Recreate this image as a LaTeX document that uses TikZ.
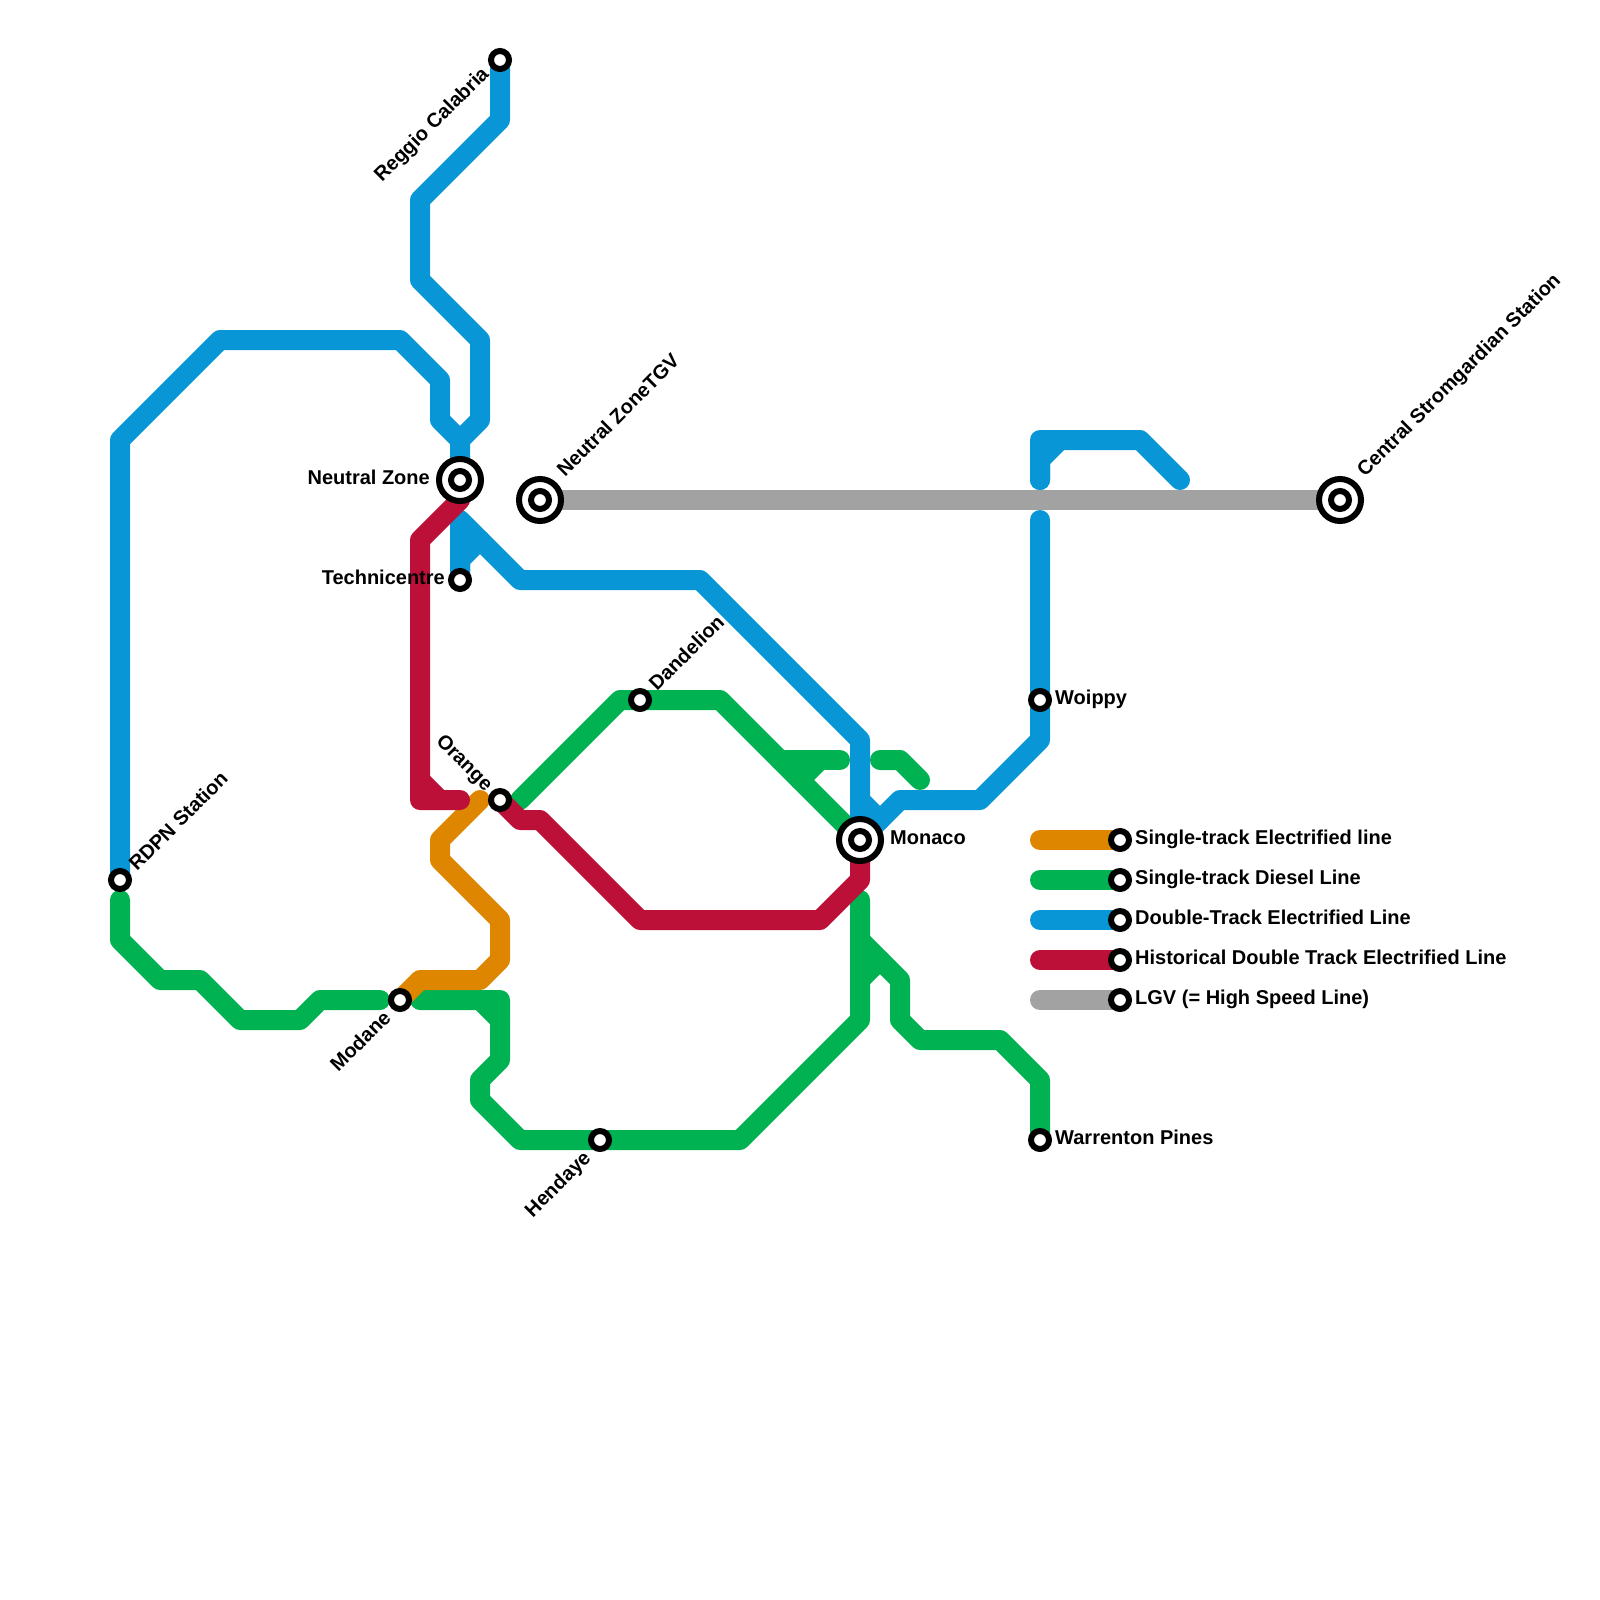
\documentclass[tikz,border=0pt]{standalone}
\usepackage{fontspec}
\setmainfont{Liberation Sans}
\usepackage{xcolor}
\usetikzlibrary{calc,positioning,backgrounds}
\definecolor{orangeline}{HTML}{DF8600}
\definecolor{greenline}{HTML}{00B251}
\definecolor{blueline}{HTML}{0896D7}
\definecolor{redline}{HTML}{BD1038}
\definecolor{greyline}{HTML}{A2A2A2}
\begin{document}
\begin{tikzpicture}[
    x=1pt,y=-1pt,
    every node/.style={font=\fontsize{20}{22}\selectfont\bfseries},
    track/.style={line width=20pt,line cap=round,line join=round},
    stn/.style={circle,draw=black,fill=white,line width=6pt,minimum size=18pt,inner sep=0pt},
    bigstn/.style={circle,draw=black,fill=white,line width=6pt,minimum size=42pt,inner sep=0pt},
    lbl/.style={inner sep=0pt}
  ]
    \useasboundingbox (0,0) rectangle (1600,1600);
    % interchange rings
    \node[bigstn] (nzring) at (460,480) {};
    \node[bigstn] (tgvring) at (540,500) {};
    \node[bigstn] (csring) at (1340,500) {};
    \node[bigstn] (monacoring) at (860,840) {};
    % stations
    \node[stn] (rdpn) at (120,880) {};
    \node[stn] (reggio) at (500,60) {};
    \node[stn] (nz) at (460,480) {};
    \node[stn] (tgv) at (540,500) {};
    \node[stn] (cs) at (1340,500) {};
    \node[stn] (techni) at (460,580) {};
    \node[stn] (dandelion) at (640,700) {};
    \node[stn] (orange) at (500,800) {};
    \node[stn] (monaco) at (860,840) {};
    \node[stn] (woippy) at (1040,700) {};
    \node[stn] (modane) at (400,1000) {};
    \node[stn] (hendaye) at (600,1140) {};
    \node[stn] (warrenton) at (1040,1140) {};
    % line ends that stop short of a station
    \coordinate (greenstart) at (520,800);
    \coordinate (orangeend) at (480,800);
    \coordinate (redend) at (460,800);
    \begin{pgfonlayer}{background}
      % grey
      \draw[track,greyline] (tgv.center) -- (cs.center);
      % green
      \draw[track,greenline] (greenstart) -- (620,700) -- (dandelion.center) -- (720,700) -- (monaco.center);
      \draw[track,greenline] (780,760) -- (840,760);
      \draw[track,greenline] (800,780) -- (820,760);
      \draw[track,greenline] (880,760) -- (900,760) -- (920,780);
      \draw[track,greenline] (860,900) -- (860,1020) -- (740,1140) -- (hendaye.center) -- (520,1140) -- (480,1100) -- (480,1080) -- (500,1060) -- (500,1000) -- (420,1000);
      \draw[track,greenline] (480,1000) -- (500,1020);
      \draw[track,greenline] (860,940) -- (900,980) -- (900,1020) -- (920,1040) -- (1000,1040) -- (1040,1080) -- (warrenton.center);
      \draw[track,greenline] (860,980) -- (880,960);
      \draw[track,greenline] (120,900) -- (120,940) -- (160,980) -- (200,980) -- (240,1020) -- (300,1020) -- (320,1000) -- (380,1000);
      % orange
      \draw[track,orangeline] (modane.center) -- (420,980) -- (480,980) -- (500,960) -- (500,920) -- (440,860) -- (440,840) -- (orangeend);
      % blue
      \draw[track,blueline] (rdpn.center) -- (120,440) -- (220,340) -- (400,340) -- (440,380) -- (440,420) -- (460,440) -- (nz.center);
      \draw[track,blueline] (reggio.center) -- (500,120) -- (420,200) -- (420,280) -- (480,340) -- (480,420) -- (460,440);
      \draw[track,blueline] (techni.center) -- (460,520) -- (520,580) -- (700,580) -- (860,740) -- (monaco.center);
      \draw[track,blueline] (techni.center) -- (460,560) -- (480,540);
      \draw[track,blueline] (monaco.center) -- (900,800) -- (980,800) -- (1040,740) -- (woippy.center) -- (1040,520);
      \draw[track,blueline] (860,800) -- (880,820);
      \draw[track,blueline] (1040,480) -- (1040,440) -- (1140,440) -- (1180,480);
      \draw[track,blueline] (1040,480) -- (1040,460) -- (1060,440);
      % red
      \draw[track,redline] (nz.center) -- (460,500) -- (420,540) -- (420,800) -- (redend);
      \draw[track,redline] (420,780) -- (440,800);
      \draw[track,redline] (orange.center) -- (520,820) -- (540,820) -- (640,920) -- (820,920) -- (860,880) -- (monaco.center);
    \end{pgfonlayer}
    % station names
    \node[lbl,anchor=base east] (nzlbl) at ([shift={(-30,4)}]nz) {Neutral Zone};
    \node[lbl,anchor=base east] (technilbl) at ([shift={(-15,4)}]techni) {Technicentre};
    \node[lbl,anchor=base west] (monacolbl) at ([shift={(30,4)}]monaco) {Monaco};
    \node[lbl,anchor=base west] (woippylbl) at ([shift={(15,4)}]woippy) {Woippy};
    \node[lbl,anchor=base west] (warrentonlbl) at ([shift={(15,4)}]warrenton) {Warrenton Pines};
    \node[lbl,anchor=base west,rotate=45] (rdpnlbl) at ([shift={(17,-8)}]rdpn) {RDPN Station};
    \node[lbl,anchor=base east,rotate=45] (reggiolbl) at ([shift={(-10,15)}]reggio) {Reggio Calabria};
    \node[lbl,anchor=base west,rotate=45] (tgvlbl) at ([shift={(25,-22)}]tgv) {Neutral ZoneTGV};
    \node[lbl,anchor=base west,rotate=45] (cslbl) at ([shift={(25,-22)}]cs) {Central Stromgardian Station};
    \node[lbl,anchor=base west,rotate=45] (dandelionlbl) at ([shift={(17,-8)}]dandelion) {Dandelion};
    \node[lbl,anchor=base east,rotate=-45] (orangelbl) at ([shift={(-15,-8)}]orange) {Orange};
    \node[lbl,anchor=base east,rotate=45] (modanelbl) at ([shift={(-8,19)}]modane) {Modane};
    \node[lbl,anchor=base east,rotate=45] (hendayelbl) at ([shift={(-8,19)}]hendaye) {Hendaye};
    % legend
    \foreach \i/\y/\col/\txt in {1/840/orangeline/Single-track Electrified line,
                                 2/880/greenline/Single-track Diesel Line,
                                 3/920/blueline/Double-Track Electrified Line,
                                 4/960/redline/Historical Double Track Electrified Line,
                                 5/1000/greyline/LGV (= High Speed Line)} {
      \node[stn] (key\i) at (1120,\y) {};
      \coordinate (keystart\i) at (1040,\y);
      \begin{pgfonlayer}{background}
        \draw[track,\col] (keystart\i) -- (key\i.center);
      \end{pgfonlayer}
      \node[lbl,anchor=base west] (keylbl\i) at ([shift={(15,4)}]key\i) {\txt};
    }
  \end{tikzpicture}
\end{document}
